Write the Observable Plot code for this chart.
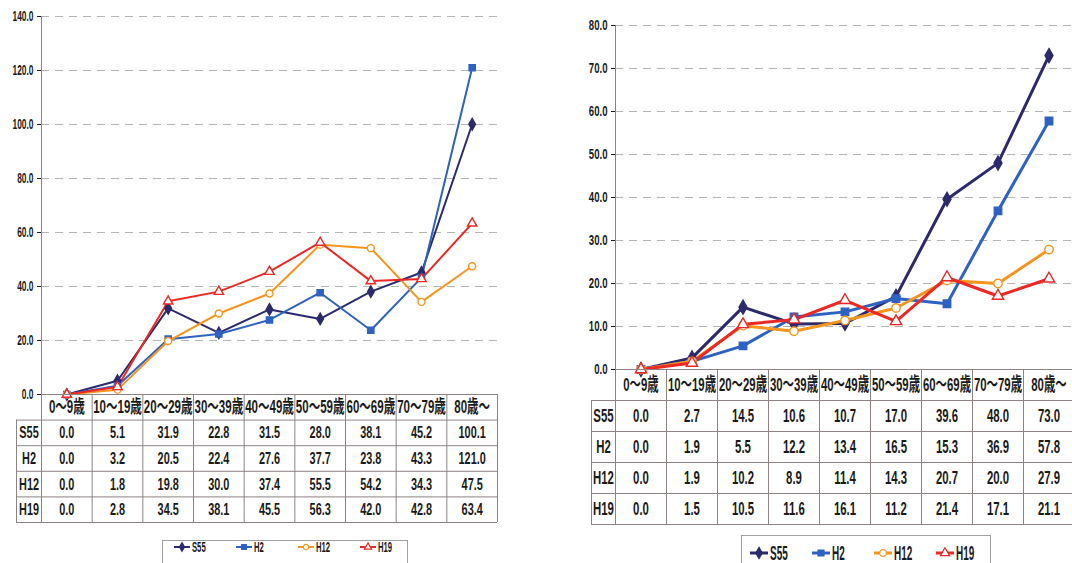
<!DOCTYPE html>
<html>
<head>
<meta charset="utf-8">
<script src="https://cdn.jsdelivr.net/npm/d3@7"></script>
<script src="https://cdn.jsdelivr.net/npm/@observablehq/plot@0.6"></script>
<style>
  html, body { margin: 0; padding: 0; background: #fff; overflow: hidden; }
  #root { position: relative; width: 1072px; height: 563px; overflow: hidden; }
  #root > svg { position: absolute; overflow: visible; }
</style>
</head>
<body>
<div id="root"></div>
<script>
// Age groups (x categories) and the four survey years
const ageGroups = ["0〜9歳", "10〜19歳", "20〜29歳", "30〜39歳", "40〜49歳", "50〜59歳", "60〜69歳", "70〜79歳", "80歳〜"];
const seriesNames = ["S55", "H2", "H12", "H19"];
const seriesColors = ["#2b2a6c", "#2e62c2", "#f7941d", "#ec2724"];
const seriesSymbols = ["diamond", "square", "circle", "triangle"];
const seriesFills = ["#2b2a6c", "#2e62c2", "#ffffff", "#ffffff"];

// Left panel values
const leftS55 = [0.0, 5.1, 31.9, 22.8, 31.5, 28.0, 38.1, 45.2, 100.1];
const leftH2  = [0.0, 3.2, 20.5, 22.4, 27.6, 37.7, 23.8, 43.3, 121.0];
const leftH12 = [0.0, 1.8, 19.8, 30.0, 37.4, 55.5, 54.2, 34.3, 47.5];
const leftH19 = [0.0, 2.8, 34.5, 38.1, 45.5, 56.3, 42.0, 42.8, 63.4];
const leftTicks = [0, 20, 40, 60, 80, 100, 120, 140];

// Right panel values
const rightS55 = [0.0, 2.7, 14.5, 10.6, 10.7, 17.0, 39.6, 48.0, 73.0];
const rightH2  = [0.0, 1.9, 5.5, 12.2, 13.4, 16.5, 15.3, 36.9, 57.8];
const rightH12 = [0.0, 1.9, 10.2, 8.9, 11.4, 14.3, 20.7, 20.0, 27.9];
const rightH19 = [0.0, 1.5, 10.5, 11.6, 16.1, 11.2, 21.4, 17.1, 21.1];
const rightTicks = [0, 10, 20, 30, 40, 50, 60, 70, 80];

const FONT = '"Liberation Sans", "Noto Sans CJK JP", sans-serif';
const GRID = "#8d8383";
const INK = "#1a1a1a";
const fmt = d3.format(".1f");

function longRows(values) {
  return seriesNames.flatMap((name, s) => values[s].map((v, i) => ({series: name, s, i, value: v})));
}

// squeeze every label horizontally around its own anchor
function condense(svg, sx) {
  d3.select(svg).selectAll("text").each(function () {
    const x = +(this.getAttribute("x") || 0);
    const t = this.getAttribute("transform") || "";
    this.setAttribute("transform", `${t} translate(${x},0) scale(${sx},1) translate(${-x},0)`);
  });
  return svg;
}

function place(svg, left, top) {
  svg.style.left = left + "px";
  svg.style.top = top + "px";
  document.getElementById("root").appendChild(svg);
}

function lineChart(p) {
  const rows = longRows(p.values);
  const dots = seriesNames.map((name, s) =>
    Plot.dot(rows.filter(d => d.s === s), {
      x: "i", y: "value", symbol: seriesSymbols[s], r: p.r,
      fill: seriesFills[s], stroke: seriesColors[s], strokeWidth: 1.4
    })
  );
  return Plot.plot({
    width: p.width, height: p.height,
    marginLeft: p.marginLeft, marginRight: p.marginRight, marginTop: p.marginTop, marginBottom: p.marginBottom,
    style: {fontFamily: FONT, fontSize: p.tickFont + "px", fontWeight: 600, color: INK, background: "transparent", overflow: "visible"},
    x: {type: "linear", domain: [-0.5, 8.5], axis: null},
    y: {domain: [0, p.yMax], ticks: p.ticks, tickFormat: fmt, tickSize: 4, tickPadding: 4, label: null},
    color: {domain: seriesNames, range: seriesColors},
    marks: [
      Plot.ruleY(p.ticks.filter(t => t > 0), {stroke: "#b4b4b4", strokeDasharray: "8,6"}),
      Plot.ruleX([-0.5], {stroke: GRID}),
      Plot.ruleY([0], {stroke: GRID}),
      Plot.line(rows, {x: "i", y: "value", z: "series", stroke: "series", strokeWidth: p.lineWidth}),
      ...dots
    ]
  });
}

function tableChart(p) {
  const cells = longRows(p.values);
  const step = (p.width - p.mainMarginLeft - p.marginRight) / 9;
  const labelSpan = (p.mainMarginLeft - p.marginLeft) / step;
  const x0 = -0.5 - labelSpan;
  const edges = d3.range(10).map(k => k - 0.5);
  return Plot.plot({
    width: p.width, height: p.height,
    marginLeft: p.marginLeft, marginRight: p.marginRight, marginTop: 1, marginBottom: 2,
    style: {fontFamily: FONT, fontWeight: 600, color: INK, background: "transparent", overflow: "visible"},
    x: {type: "linear", domain: [x0, 8.5], axis: null},
    y: {type: "linear", domain: [0, 5], reverse: true, axis: null},
    marks: [
      Plot.ruleY([1, 2, 3, 4, 5], {y: d => d, x1: () => x0, x2: () => 8.5, stroke: GRID}),
      Plot.ruleY([0], {y: d => d, x1: () => -0.5, x2: () => 8.5, stroke: GRID}),
      Plot.ruleX([x0], {x: d => d, y1: () => 1, y2: () => 5, stroke: GRID}),
      Plot.ruleX(edges, {x: d => d, y1: () => 0, y2: () => 5, stroke: GRID}),
      Plot.text(ageGroups, {x: (d, i) => i, y: () => 0.5, text: d => d, fontSize: p.headFont, fill: INK}),
      Plot.text(seriesNames, {x: () => x0 + labelSpan / 2, y: (d, i) => i + 1.5, text: d => d, fontSize: p.cellFont, fill: INK}),
      Plot.text(cells, {x: "i", y: d => d.s + 1.5, text: d => fmt(d.value), fontSize: p.cellFont, fill: INK})
    ]
  });
}

function legend(p) {
  const svg = d3.create("svg").attr("width", p.width).attr("height", p.height)
    .style("font-family", FONT).style("font-weight", 600);
  svg.append("rect").attr("x", 0.5).attr("y", 0.5).attr("width", p.width - 1).attr("height", p.height)
    .attr("fill", "#fff").attr("stroke", "#a0a0a0");
  const sym = {diamond: d3.symbolDiamond, square: d3.symbolSquare, circle: d3.symbolCircle, triangle: d3.symbolTriangle};
  seriesNames.forEach((name, s) => {
    const cx = p.first + s * p.spacing;
    const g = svg.append("g").attr("transform", `translate(${cx},${p.cy})`);
    g.append("line").attr("x1", -p.half).attr("x2", p.half).attr("stroke", seriesColors[s]).attr("stroke-width", p.lineWidth);
    g.append("path").attr("d", d3.symbol(sym[seriesSymbols[s]], p.symSize)())
      .attr("fill", seriesFills[s]).attr("stroke", seriesColors[s]).attr("stroke-width", 1.2);
    g.append("text").attr("x", p.half + 2).attr("dy", "0.36em").attr("font-size", p.font)
      .attr("fill", INK).text(name);
  });
  return svg.node();
}

// ---- left panel ----
place(condense(lineChart({
  values: [leftS55, leftH2, leftH12, leftH19], yMax: 140, ticks: leftTicks,
  width: 510, height: 404, marginLeft: 41, marginRight: 13, marginTop: 16, marginBottom: 10,
  lineWidth: 2, r: 3.5, tickFont: 14
}), 0.6), 0, 0);

place(condense(tableChart({
  values: [leftS55, leftH2, leftH12, leftH19],
  width: 510, height: 131, marginLeft: 16, marginRight: 13, mainMarginLeft: 41,
  headFont: 18, cellFont: 17
}), 0.64), 0, 393);

place(condense(legend({
  width: 246, height: 30, cy: 7, first: 20, spacing: 62, half: 8, lineWidth: 2, symSize: 22, font: 14
}), 0.55), 162, 540);

// ---- right panel ----
place(condense(lineChart({
  values: [rightS55, rightH2, rightH12, rightH19], yMax: 80, ticks: rightTicks,
  width: 514, height: 379, marginLeft: 55, marginRight: 0, marginTop: 25, marginBottom: 10,
  lineWidth: 3, r: 4.2, tickFont: 15
}), 0.64), 560, 0);

place(condense(tableChart({
  values: [rightS55, rightH2, rightH12, rightH19],
  width: 514, height: 158, marginLeft: 31, marginRight: 0, mainMarginLeft: 55,
  headFont: 19, cellFont: 19
}), 0.6), 560, 368);

place(condense(legend({
  width: 250, height: 35, cy: 18, first: 18, spacing: 62, half: 9, lineWidth: 3, symSize: 36, font: 20
}), 0.5), 741, 535);
</script>
</body>
</html>
